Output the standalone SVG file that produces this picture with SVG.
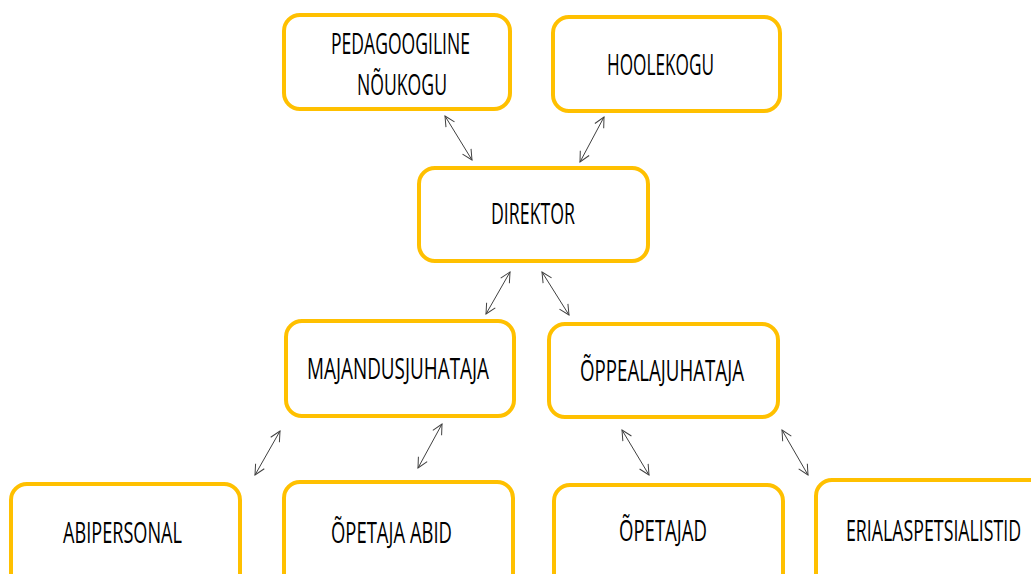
<svg xmlns="http://www.w3.org/2000/svg" width="1031" height="574" viewBox="0 0 1031 574">
<style>
.box{fill:#fff;stroke:#FFC000;stroke-width:4}
.t{font-family:"Open Sans","Liberation Sans",sans-serif;font-size:29px;fill:#000;text-anchor:start}
.c{fill:none;stroke:#404040;stroke-width:1}
</style>
<defs>
<marker id="ah" viewBox="0 0 12 12" refX="11" refY="6" markerWidth="12" markerHeight="12" markerUnits="userSpaceOnUse" orient="auto-start-reverse">
<path d="M1,1 L11,6 L1,11" fill="none" stroke="#404040" stroke-width="1"/>
</marker>
</defs>
<rect width="1031" height="574" fill="#fff"/>
<g id="connectors">
<line class="c" x1="445" y1="116" x2="472" y2="160" marker-start="url(#ah)" marker-end="url(#ah)"/>
<line class="c" x1="604" y1="117" x2="580" y2="162" marker-start="url(#ah)" marker-end="url(#ah)"/>
<line class="c" x1="510" y1="272" x2="486" y2="314" marker-start="url(#ah)" marker-end="url(#ah)"/>
<line class="c" x1="542" y1="272" x2="569" y2="315" marker-start="url(#ah)" marker-end="url(#ah)"/>
<line class="c" x1="280" y1="431" x2="255" y2="475" marker-start="url(#ah)" marker-end="url(#ah)"/>
<line class="c" x1="442" y1="424" x2="418" y2="468" marker-start="url(#ah)" marker-end="url(#ah)"/>
<line class="c" x1="622" y1="430" x2="649" y2="475" marker-start="url(#ah)" marker-end="url(#ah)"/>
<line class="c" x1="782" y1="430" x2="808" y2="475" marker-start="url(#ah)" marker-end="url(#ah)"/>
</g>
<g id="pedagoogiline">
<rect class="box" x="284" y="15" width="226" height="94" rx="16"/>
<text class="t" x="331" y="54" textLength="139" lengthAdjust="spacingAndGlyphs">PEDAGOOGILINE</text>
<text class="t" x="357" y="95" textLength="90" lengthAdjust="spacingAndGlyphs">NÕUKOGU</text>
</g>
<g id="hoolekogu">
<rect class="box" x="553" y="17" width="227" height="94" rx="16"/>
<text class="t" x="607" y="75" textLength="107" lengthAdjust="spacingAndGlyphs">HOOLEKOGU</text>
</g>
<g id="direktor">
<rect class="box" x="419" y="168" width="229" height="93" rx="16"/>
<text class="t" x="491" y="224" textLength="84" lengthAdjust="spacingAndGlyphs">DIREKTOR</text>
</g>
<g id="majandusjuhataja">
<rect class="box" x="286" y="321" width="228" height="95" rx="16"/>
<text class="t" x="307" y="379" textLength="182" lengthAdjust="spacingAndGlyphs">MAJANDUSJUHATAJA</text>
</g>
<g id="oppealajuhataja">
<rect class="box" x="549" y="324" width="229" height="93" rx="16"/>
<text class="t" x="580" y="381" textLength="164" lengthAdjust="spacingAndGlyphs">ÕPPEALAJUHATAJA</text>
</g>
<g id="abipersonal">
<rect class="box" x="11" y="484" width="229" height="110" rx="16"/>
<text class="t" x="63" y="543" textLength="119" lengthAdjust="spacingAndGlyphs">ABIPERSONAL</text>
</g>
<g id="opetaja-abid">
<rect class="box" x="284" y="482" width="229" height="110" rx="16"/>
<text class="t" x="331" y="543" textLength="121" lengthAdjust="spacingAndGlyphs">ÕPETAJA ABID</text>
</g>
<g id="opetajad">
<rect class="box" x="554" y="485" width="229" height="110" rx="16"/>
<text class="t" x="619" y="541" textLength="88" lengthAdjust="spacingAndGlyphs">ÕPETAJAD</text>
</g>
<g id="erialaspetsialistid">
<rect class="box" x="816" y="480" width="240" height="110" rx="16"/>
<text class="t" transform="translate(846,541) scale(0.6,1)" x="0" y="0" textLength="292" lengthAdjust="spacingAndGlyphs">ERIALASPETSIALISTID</text>
</g>
</svg>
